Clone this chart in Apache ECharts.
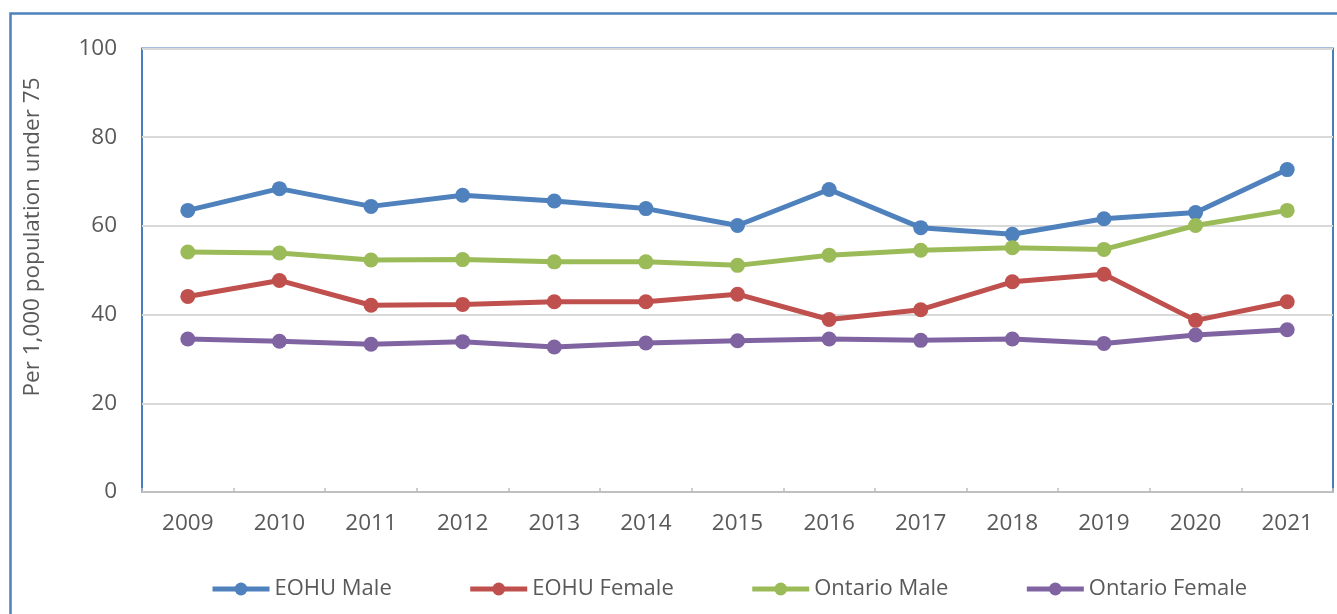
<!DOCTYPE html>
<html>
<head>
<meta charset="utf-8">
<script src="https://cdn.jsdelivr.net/npm/echarts@6/dist/echarts.min.js"></script>
<style>
html,body{margin:0;padding:0;background:#fff;}
#chart{width:1337px;height:614px;}
</style>
</head>
<body>
<div id="chart"></div>
<script>
const years = ['2009','2010','2011','2012','2013','2014','2015','2016','2017','2018','2019','2020','2021'];
const eohuMale = [63.5,68.4,64.4,66.9,65.6,63.9,60.1,68.2,59.6,58.1,61.6,63.0,72.7];
const eohuFemale = [44.1,47.7,42.1,42.3,42.9,42.9,44.6,38.9,41.1,47.4,49.1,38.7,42.9];
const ontarioMale = [54.1,53.9,52.3,52.4,51.9,51.9,51.1,53.4,54.5,55.1,54.7,60.1,63.5];
const ontarioFemale = [34.5,34.0,33.3,33.9,32.7,33.6,34.1,34.5,34.2,34.5,33.5,35.4,36.6];
const seriesNames = ['EOHU Male','EOHU Female','Ontario Male','Ontario Female'];
const yAxisTitle = 'Per 1,000 population under 75';

const colors = ['#4f81bd','#c0504d','#9bbb59','#8064a2'];
const font = "'Open Sans', sans-serif";
const chart = echarts.init(document.getElementById('chart'));

function mk(name, data, i){
  return {
    name, type:'line', data,
    symbol:'circle', symbolSize:15,
    lineStyle:{width:5,color:colors[i]},
    itemStyle:{color:colors[i]},
    emphasis:{disabled:true},
    z: 3
  };
}

chart.setOption({
  animation:false,
  color:colors,
  grid:{left:142,top:48.5,right:4,bottom:122,show:true,borderColor:'#4a7ebb',borderWidth:2,backgroundColor:'transparent'},
  legend:{
    data:seriesNames,
    left:205, top:573,
    itemWidth:57, itemHeight:16, itemGap:76,
    lineStyle:{width:5},
    textStyle:{fontFamily:font,fontSize:22,color:'#595959'}
  },
  graphic:[
    {type:'rect',left:8,top:11,shape:{x:0,y:0,width:1400,height:700},style:{fill:'none',stroke:'#4f81bd',lineWidth:2.5},silent:true,z:-1},
    {type:'text',x:33,y:237,rotation:Math.PI/2,style:{text:yAxisTitle,fontFamily:font,fontSize:22.5,fill:'#595959',align:'center',verticalAlign:'middle'},silent:true}
  ],
  xAxis:{
    type:'category',data:years,boundaryGap:true,
    axisLine:{show:true,lineStyle:{color:'#bfbfbf',width:2}},
    axisTick:{show:true,inside:true,length:4,lineStyle:{color:'#bfbfbf',width:1.5}},
    axisLabel:{fontFamily:font,fontSize:22.5,color:'#595959',margin:20},
    z:5
  },
  yAxis:{
    type:'value',min:0,max:100,interval:20,
    axisLine:{show:false},axisTick:{show:false},
    axisLabel:{fontFamily:font,fontSize:22.5,color:'#595959',margin:25},
    splitLine:{lineStyle:{color:'#d9d9d9',width:2}}
  },
  series:[
    mk(seriesNames[0],eohuMale,0),
    mk(seriesNames[1],eohuFemale,1),
    mk(seriesNames[2],ontarioMale,2),
    mk(seriesNames[3],ontarioFemale,3)
  ]
});
</script>
</body>
</html>
